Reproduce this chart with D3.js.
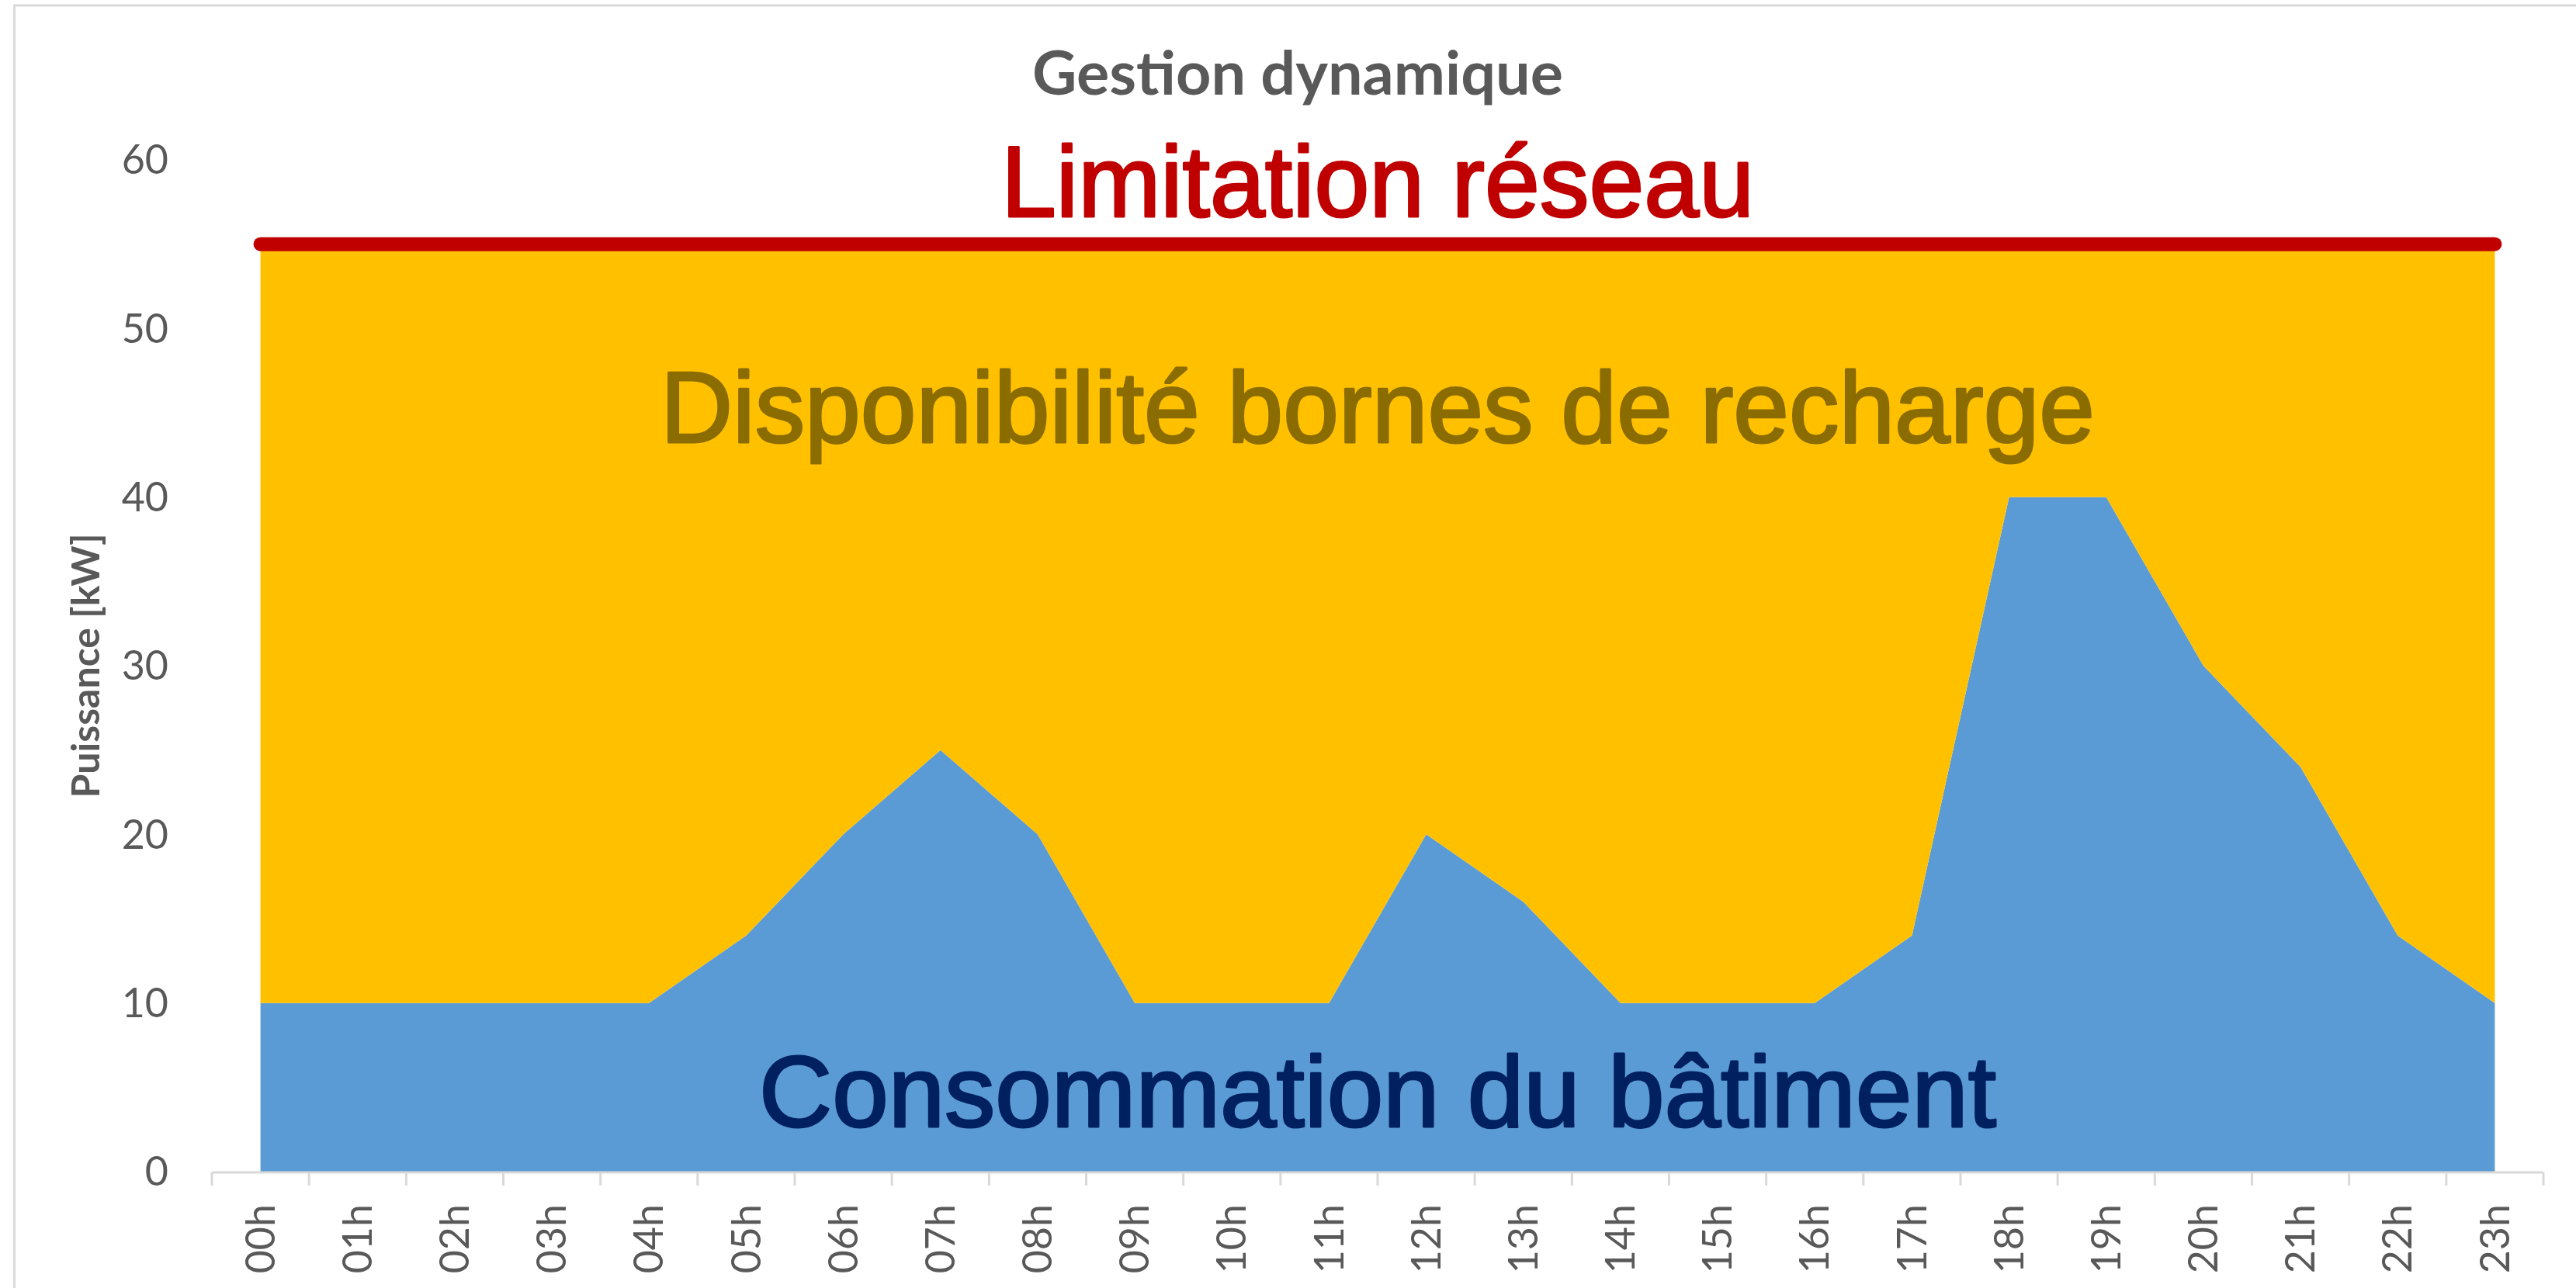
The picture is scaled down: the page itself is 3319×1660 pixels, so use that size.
<!DOCTYPE html>
<html>
<head>
<meta charset="utf-8">
<script src="https://cdn.jsdelivr.net/npm/d3@7"></script>
<style>
  body { margin: 0; background: #fff; }
  svg { display: block; }
</style>
</head>
<body>
<div id="chart"></div>
<script>
(function() {

    // hourly categories and series (kW)
    var hours = ["00h", "01h", "02h", "03h", "04h", "05h", "06h", "07h", "08h", "09h", "10h", "11h",
                 "12h", "13h", "14h", "15h", "16h", "17h", "18h", "19h", "20h", "21h", "22h", "23h"];
    var batiment = [10, 10, 10, 10, 10, 14, 20, 25, 20, 10, 10, 10,
                    20, 16, 10, 10, 10, 14, 40, 40, 30, 24, 14, 10];
    var limite = [55, 55, 55, 55, 55, 55, 55, 55, 55, 55, 55, 55,
                  55, 55, 55, 55, 55, 55, 55, 55, 55, 55, 55, 55];
    var yTicks = [0, 10, 20, 30, 40, 50, 60];

    var width = 3319;
    var height = 1660;

    var svg = d3.select("#chart").append("svg")
        .attr("width", width)
        .attr("height", height);

    // chart frame (only top and left edge fall inside the picture)
    svg.append("rect")
        .attr("x", 18.5)
        .attr("y", 7)
        .attr("width", width + 100)
        .attr("height", height + 100)
        .attr("fill", "none")
        .attr("stroke", "#d9d9d9")
        .attr("stroke-width", 3);

    var x = d3.scaleBand()
        .domain(hours)
        .range([273, 3277])
        .padding(0);

    var y = d3.scaleLinear()
        .domain([0, 60])
        .range([1510, 206]);

    var cx = function(h) { return x(h) + x.bandwidth() / 2; };

    var rows = hours.map(function(h, i) {
        return { hour: h, batiment: batiment[i], bornes: limite[i] - batiment[i], limite: limite[i] };
    });

    var stack = d3.stack().keys(["batiment", "bornes"]);
    var series = stack(rows);
    var colors = { batiment: "#5b9bd5", bornes: "#ffc000" };

    var area = d3.area()
        .x(function(d) { return cx(d.data.hour); })
        .y0(function(d) { return y(d[0]); })
        .y1(function(d) { return y(d[1]); });

    svg.selectAll(".layer")
        .data(series)
        .enter().append("path")
        .attr("class", "layer")
        .attr("d", area)
        .attr("fill", function(d) { return colors[d.key]; });

    // x axis
    var xAxis = svg.append("g")
        .attr("transform", "translate(0,1511)");
    xAxis.append("line")
        .attr("x1", x.range()[0])
        .attr("x2", x.range()[1])
        .attr("stroke", "#d9d9d9")
        .attr("stroke-width", 3);
    xAxis.selectAll(".tick")
        .data(hours.concat(["end"]))
        .enter().append("line")
        .attr("class", "tick")
        .attr("x1", function(d) { return d === "end" ? x.range()[1] : x(d); })
        .attr("x2", function(d) { return d === "end" ? x.range()[1] : x(d); })
        .attr("y1", 0)
        .attr("y2", 17)
        .attr("stroke", "#d9d9d9")
        .attr("stroke-width", 3);
    xAxis.selectAll(".label")
        .data(hours)
        .enter().append("text")
        .attr("class", "label")
        .attr("transform", function(d) { return "translate(" + cx(d) + ",41) rotate(-90)"; })
        .attr("text-anchor", "end")
        .attr("dy", "0.35em")
        .attr("font-family", "Lato, sans-serif")
        .attr("font-size", 52)
        .attr("fill", "#595959")
        .text(function(d) { return d; });

    // y tick labels
    svg.selectAll(".ylabel")
        .data(yTicks)
        .enter().append("text")
        .attr("class", "ylabel")
        .attr("x", 217)
        .attr("y", function(d) { return y(d); })
        .attr("dy", "0.35em")
        .attr("text-anchor", "end")
        .attr("font-family", "Lato, sans-serif")
        .attr("font-size", 52)
        .attr("fill", "#595959")
        .text(function(d) { return d; });

    svg.append("text")
        .attr("transform", "translate(128," + (y(30)) + ") rotate(-90)")
        .attr("text-anchor", "middle")
        .attr("font-family", "Lato, sans-serif")
        .attr("font-weight", "bold")
        .attr("font-size", 50)
        .attr("fill", "#595959")
        .text("Puissance [kW]");

    // grid limit line
    var line = d3.line()
        .x(function(d) { return cx(d.hour); })
        .y(function(d) { return y(d.limite); });

    svg.append("path")
        .datum(rows)
        .attr("d", line)
        .attr("fill", "none")
        .attr("stroke", "#c00000")
        .attr("stroke-width", 18)
        .attr("stroke-linecap", "round");

    // titles and annotations
    svg.append("text")
        .attr("x", 1672)
        .attr("y", 122)
        .attr("text-anchor", "middle")
        .attr("font-family", "Lato, sans-serif")
        .attr("font-weight", "bold")
        .attr("font-size", 78)
        .attr("fill", "#595959")
        .attr("textLength", 684)
        .attr("lengthAdjust", "spacingAndGlyphs")
        .text("Gestion dynamique");

    var midX = (cx(hours[0]) + cx(hours[hours.length - 1])) / 2;

    var notes = [
        { text: "Limitation réseau", y: 279, len: 970, color: "#c00000" },
        { text: "Disponibilité bornes de recharge", y: 570, len: 1848, color: "#8b6c00" },
        { text: "Consommation du bâtiment", y: 1452, len: 1594, color: "#002060" }
    ];

    // slightly heavier than the regular face, like the original
    svg.selectAll(".note")
        .data(notes)
        .enter().append("text")
        .attr("class", "note")
        .attr("x", midX)
        .attr("y", function(d) { return d.y; })
        .attr("text-anchor", "middle")
        .attr("font-family", "'Liberation Sans', Arial, sans-serif")
        .attr("font-size", 130)
        .attr("fill", function(d) { return d.color; })
        .attr("stroke", function(d) { return d.color; })
        .attr("stroke-width", 3)
        .attr("stroke-linejoin", "round")
        .attr("textLength", function(d) { return d.len; })
        .attr("lengthAdjust", "spacingAndGlyphs")
        .text(function(d) { return d.text; });

})();
</script>
</body>
</html>
